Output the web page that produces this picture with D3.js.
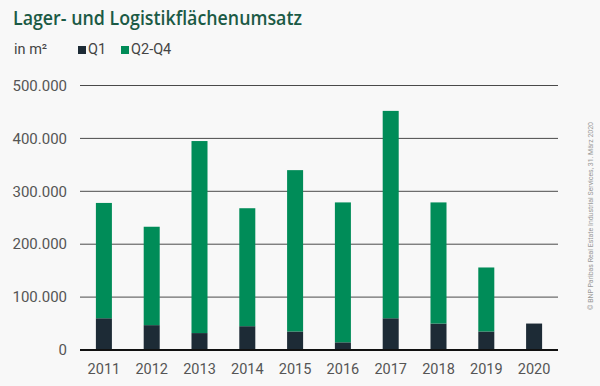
<!DOCTYPE html>
<html>
<head>
<meta charset="utf-8">
<script src="https://cdn.jsdelivr.net/npm/d3@7"></script>
<style>
  body { margin: 0; background: #f8f8f8; }
  svg { display: block; font-family: Roboto, "Noto Sans", sans-serif; }
</style>
</head>
<body>
<div id="chart"></div>
<script>
// data (m²)
const years = ['2011', '2012', '2013', '2014', '2015', '2016', '2017', '2018', '2019', '2020'];
const q1 = [60000, 47000, 32000, 45000, 35000, 14500, 60000, 50000, 35000, 50000];
const q2q4 = [218000, 186000, 363000, 223000, 305000, 264500, 392000, 229000, 121000, 0];
const yTicks = [0, 100000, 200000, 300000, 400000, 500000];
const seriesNames = ['Q1', 'Q2-Q4'];
const colors = ['#1d2b36', '#008c58'];

const width = 600, height = 386;
const margin = { top: 85.5, right: 42, bottom: 36, left: 80 };

const svg = d3.select('#chart')
  .append('svg')
  .attr('width', width)
  .attr('height', height);

svg.append('rect')
  .attr('width', width)
  .attr('height', height)
  .attr('fill', '#f8f8f8');

// title + legend
svg.append('text')
  .attr('x', 13)
  .attr('y', 25)
  .attr('fill', '#1b5a45')
  .style('font-family', '"Open Sans", sans-serif')
  .style('font-weight', 600)
  .style('font-size', '19px')
  .attr('textLength', 289)
  .attr('lengthAdjust', 'spacingAndGlyphs')
  .text('Lager- und Logistikflächenumsatz');

svg.append('text')
  .attr('x', 14)
  .attr('y', 54)
  .attr('fill', '#444')
  .style('font-size', '14.5px')
  .text('in m²');

const legend = svg.append('g');
const legendX = [78, 121];
seriesNames.forEach((name, i) => {
  legend.append('rect')
    .attr('x', legendX[i])
    .attr('y', 46)
    .attr('width', 8)
    .attr('height', 8)
    .attr('fill', colors[i]);
  legend.append('text')
    .attr('x', legendX[i] + 10)
    .attr('y', 54)
    .attr('fill', '#444')
    .style('font-size', '14.5px')
    .text(name);
});

// scales
const x = d3.scaleBand()
  .domain(years)
  .range([margin.left, width - margin.right])
  .paddingInner(0.665)
  .paddingOuter(0.3325);

const y = d3.scaleLinear()
  .domain([0, 500000])
  .range([height - margin.bottom, margin.top]);

const fmt = d3.formatLocale({ decimal: ',', thousands: '.', grouping: [3], currency: ['', '€'] }).format(',');

// grid
svg.append('g')
  .selectAll('line')
  .data(yTicks.filter(d => d > 0))
  .join('line')
  .attr('x1', margin.left)
  .attr('x2', width - margin.right)
  .attr('y1', d => y(d))
  .attr('y2', d => y(d))
  .attr('stroke', '#4a4a4a')
  .attr('stroke-width', 1);

// y labels
svg.append('g')
  .selectAll('text')
  .data(yTicks)
  .join('text')
  .attr('x', 67)
  .attr('y', d => y(d))
  .attr('dy', '0.35em')
  .attr('text-anchor', 'end')
  .attr('fill', '#555')
  .style('font-size', '15px')
  .text(d => fmt(d));

// stacked bars
const rows = years.map((yr, i) => ({ year: yr, Q1: q1[i], 'Q2-Q4': q2q4[i] }));
const stack = d3.stack().keys(seriesNames)(rows);

svg.append('g')
  .selectAll('g')
  .data(stack)
  .join('g')
  .attr('fill', (d, i) => colors[i])
  .selectAll('rect')
  .data(d => d)
  .join('rect')
  .attr('x', d => x(d.data.year))
  .attr('width', x.bandwidth())
  .attr('y', d => y(d[1]))
  .attr('height', d => y(d[0]) - y(d[1]));

// zero line
svg.append('line')
  .attr('x1', margin.left)
  .attr('x2', width - margin.right)
  .attr('y1', y(0))
  .attr('y2', y(0))
  .attr('stroke', '#111')
  .attr('stroke-width', 2);

// x axis labels
svg.append('g')
  .selectAll('text')
  .data(years)
  .join('text')
  .attr('x', d => x(d) + x.bandwidth() / 2)
  .attr('y', 374)
  .attr('text-anchor', 'middle')
  .attr('fill', '#555')
  .style('font-size', '14.5px')
  .text(d => d);

// source note
svg.append('text')
  .attr('transform', 'translate(593,216) rotate(-90)')
  .attr('text-anchor', 'middle')
  .attr('fill', '#999')
  .style('font-size', '7.5px')
  .attr('textLength', 188)
  .attr('lengthAdjust', 'spacingAndGlyphs')
  .text('© BNP Paribas Real Estate Industrial Services, 31. März 2020');
</script>
</body>
</html>
